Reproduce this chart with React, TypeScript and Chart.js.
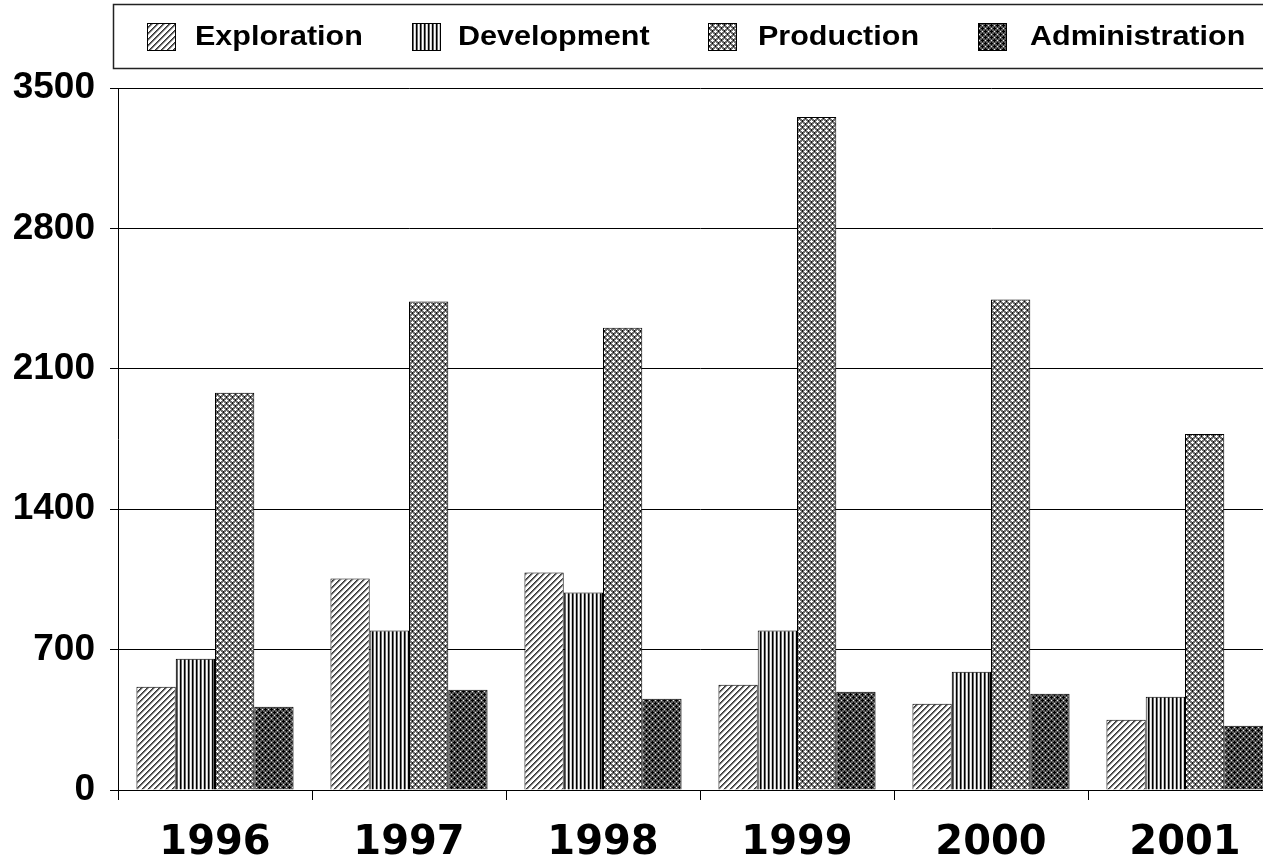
import React, { useEffect, useRef } from "react";
import { Chart, registerables } from "chart.js";
Chart.register(...registerables);

const categories = ["1996", "1997", "1998", "1999", "2000", "2001"];
const seriesNames = ["Exploration", "Development", "Production", "Administration"];
const exploration = [515, 1055, 1085, 525, 430, 350];
const development = [655, 795, 985, 795, 590, 465];
const production = [1980, 2435, 2305, 3355, 2445, 1775];
const administration = [415, 500, 455, 490, 480, 320];
const yTicks = [0, 700, 1400, 2100, 2800, 3500];

const tiles: { rows: string[]; pal: Record<string, string> }[] = [
  {
    rows: ["DMLWWW", "MLWWWD", "LWWWDM", "WWWDML", "WWDMLW", "WDMLWW"],
    pal: { D: "#333", M: "#666", L: "#bbb", W: "#fff" },
  },
  { rows: ["DGWL"], pal: { D: "#000", G: "#666", W: "#fff", L: "#ccc" } },
  {
    rows: ["GWGGDG", "WWWGDG", "GWGGGG", "GDGGWG", "GDGWWW", "GGGGWG"],
    pal: { G: "#707070", W: "#fff", D: "#111" },
  },
  {
    rows: ["GDGGGG", "DDDGWG", "GDGGGG", "GGGGDG", "GWGDDD", "GGGGDG"],
    pal: { G: "#5a5a5a", W: "#eee", D: "#000" },
  },
];

// legend layout (pixel positions of swatches and labels)
const legendSwatchX = [147, 412, 708, 978];
const legendTextX = [195, 458, 758, 1030];

function makePattern(ctx: CanvasRenderingContext2D, t: { rows: string[]; pal: Record<string, string> }) {
  const h = t.rows.length;
  const w = t.rows[0].length;
  const c = document.createElement("canvas");
  c.width = w;
  c.height = h;
  const cx = c.getContext("2d")!;
  for (let y = 0; y < h; y++) {
    for (let x = 0; x < w; x++) {
      cx.fillStyle = t.pal[t.rows[y][x]];
      cx.fillRect(x, y, 1, 1);
    }
  }
  return ctx.createPattern(c, "repeat")!;
}

export default function App() {
  const ref = useRef<HTMLCanvasElement>(null);
  useEffect(() => {
    const canvas = ref.current!;
    const ctx = canvas.getContext("2d")!;
    const patterns = tiles.map((t) => makePattern(ctx, t));
    const values = [exploration, development, production, administration];

    const legendPlugin = {
      id: "boxLegend",
      afterDraw(chart: any) {
        const c = chart.ctx as CanvasRenderingContext2D;
        c.save();
        c.strokeStyle = "#222";
        c.lineWidth = 1.5;
        c.strokeRect(113.5, 4.5, chart.width, 64);
        c.font = 'bold 27px "Liberation Sans"';
        c.textBaseline = "middle";
        c.textAlign = "left";
        const stretch = 1.13;
        seriesNames.forEach((name, i) => {
          const x = legendSwatchX[i];
          c.fillStyle = patterns[i];
          c.fillRect(x, 23, 29, 28);
          c.lineWidth = 1;
          c.strokeStyle = "#000";
          c.strokeRect(x + 0.5, 23.5, 28, 27);
          c.save();
          c.translate(legendTextX[i], 38);
          c.scale(stretch, 1);
          c.fillStyle = "#000";
          c.fillText(name, 0, 0);
          c.restore();
        });
        c.restore();
      },
    };

    const chart = new Chart(canvas, {
      type: "bar",
      data: {
        labels: categories,
        datasets: seriesNames.map((name, i) => ({
          label: name,
          data: values[i],
          backgroundColor: patterns[i],
          borderColor: "#000",
          borderWidth: 1,
          categoryPercentage: 0.81,
          barPercentage: 1.0,
        })),
      },
      options: {
        animation: false,
        responsive: false,
        layout: { padding: { top: 88, right: 8, left: 0, bottom: 0 } },
        plugins: { legend: { display: false }, tooltip: { enabled: false } },
        scales: {
          x: {
            grid: { display: true, drawOnChartArea: false, drawTicks: true, tickLength: 10, color: "#000", offset: true },
            border: { display: true, color: "#000", width: 1 },
            ticks: {
              font: { family: "DejaVu Sans", weight: "bold", size: 40 },
              color: "#000",
              padding: 20,
              maxRotation: 0,
              autoSkip: false,
            },
            afterFit: (s: any) => {
              s.height = 74;
            },
          },
          y: {
            min: 0,
            max: 3500,
            z: 1,
            afterBuildTicks: (s: any) => {
              s.ticks = yTicks.map((v) => ({ value: v }));
            },
            grid: { color: "#000", tickLength: 8, drawTicks: true },
            border: { display: true, color: "#000", width: 1 },
            ticks: {
              font: { family: "Liberation Sans", weight: "bold", size: 37 },
              color: "#000",
              padding: 15,
              callback: (v: any) => String(v),
            },
            afterFit: (s: any) => {
              s.width = 118;
            },
          },
        },
      },
      plugins: [legendPlugin],
    });
    return () => chart.destroy();
  }, []);

  return (
    <div style={{ position: "fixed", left: 0, top: 0, width: 1263, height: 864, overflow: "hidden", background: "#fff" }}>
      <canvas ref={ref} width={1290} height={864} style={{ display: "block" }} />
    </div>
  );
}
